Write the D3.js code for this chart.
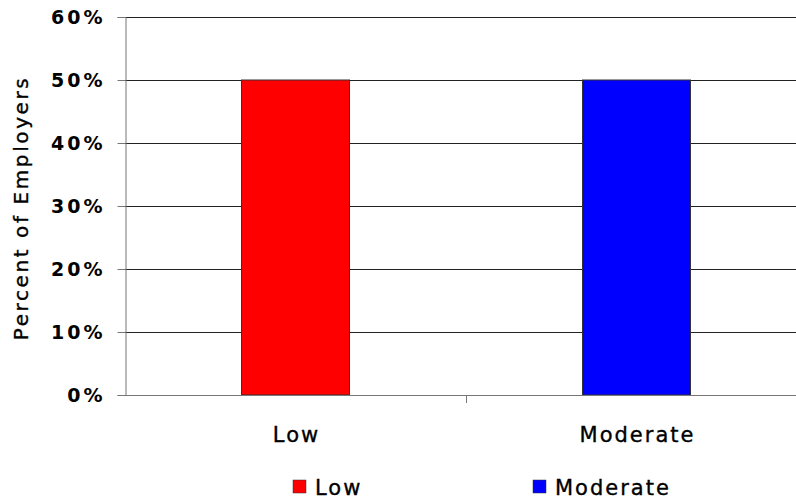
<!DOCTYPE html>
<html>
<head>
<meta charset="utf-8">
<script src="https://cdn.jsdelivr.net/npm/d3@7"></script>
<style>
  html, body { margin: 0; padding: 0; background: #fff; }
  svg { display: block; }
  text { font-family: "DejaVu Sans", Verdana, sans-serif; fill: #000; }
  .lbl { stroke: #000; stroke-width: 0.35px; }
</style>
</head>
<body>
<svg id="chart" width="796" height="500"></svg>
<script>
// Share of employers by level
const categories = ["Low", "Moderate"];
const values = [0.5, 0.5];
const colors = ["#ff0000", "#0000ff"];
const yTicks = [0, 0.1, 0.2, 0.3, 0.4, 0.5, 0.6];

const svg = d3.select("#chart");
const plotLeft = 125, plotTop = 17, plotBottom = 395, plotRight = 807;

const x = d3.scaleBand().domain(categories).range([plotLeft, plotRight]).paddingInner(0).paddingOuter(0);
const y = d3.scaleLinear().domain([0, 0.6]).range([plotBottom, plotTop]);

// horizontal gridlines
svg.append("g").selectAll("line").data(yTicks.filter(d => d > 0)).join("line")
  .attr("x1", plotLeft).attr("x2", 796)
  .attr("y1", d => Math.round(y(d)) + 0.5).attr("y2", d => Math.round(y(d)) + 0.5)
  .attr("stroke", "#222").attr("stroke-width", 1);

// bars
const barW = 108;
svg.append("g").selectAll("rect").data(categories).join("rect")
  .attr("x", (d) => x(d) + x.bandwidth() / 2 - barW / 2)
  .attr("y", (d, i) => y(values[i]))
  .attr("width", barW)
  .attr("height", (d, i) => y(0) - y(values[i]))
  .attr("fill", (d, i) => colors[i])
  .attr("stroke", "#333").attr("stroke-width", 1);

// y axis
const yAxis = d3.axisLeft(y).tickValues(yTicks).tickFormat(d3.format(".0%")).tickSize(8).tickPadding(12);
const gy = svg.append("g").attr("transform", `translate(${plotLeft + 0.5},0)`).call(yAxis);
gy.select(".domain").attr("stroke", "#777");
gy.selectAll(".tick line").attr("stroke", "#777");
gy.selectAll(".tick text").attr("font-size", 19).attr("font-weight", "bold")
  .attr("letter-spacing", "3px").attr("dy", "0.36em")
  .style("font-family", "DejaVu Sans, sans-serif");

// x axis baseline
svg.append("line").attr("x1", plotLeft).attr("x2", 796)
  .attr("y1", plotBottom + 0.5).attr("y2", plotBottom + 0.5).attr("stroke", "#777");
// category separator ticks
svg.append("g").selectAll("line").data(categories.slice(1)).join("line")
  .attr("x1", d => x(d) + 0.5).attr("x2", d => x(d) + 0.5)
  .attr("y1", plotBottom).attr("y2", plotBottom + 8).attr("stroke", "#777");

// category labels
svg.append("g").selectAll("text").data(categories).join("text")
  .attr("class", "lbl")
  .attr("x", d => x(d) + x.bandwidth() / 2 + 1)
  .attr("y", 442)
  .attr("text-anchor", "middle")
  .attr("font-size", 21).attr("letter-spacing", "2px")
  .text(d => d);

// y axis title
svg.append("text")
  .attr("class", "lbl")
  .attr("transform", `translate(28,${(plotTop + plotBottom) / 2 + 2}) rotate(-90)`)
  .attr("text-anchor", "middle")
  .attr("font-size", 20).attr("letter-spacing", "2.6px")
  .text("Percent of Employers");

// legend
const legendX = [293, 533];
const lg = svg.append("g").selectAll("g").data(categories).join("g")
  .attr("transform", (d, i) => `translate(${legendX[i]},480)`);
lg.append("rect").attr("width", 13).attr("height", 13)
  .attr("fill", (d, i) => colors[i]).attr("stroke", "#333").attr("stroke-width", 0.5);
lg.append("text").attr("class", "lbl").attr("x", 22).attr("y", 15)
  .attr("font-size", 21).attr("letter-spacing", "2px")
  .text(d => d);
</script>
</body>
</html>
